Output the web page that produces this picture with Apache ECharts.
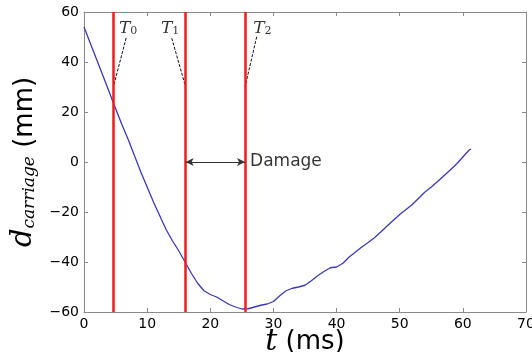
<!DOCTYPE html>
<html>
<head>
<meta charset="utf-8">
<script src="https://cdn.jsdelivr.net/npm/echarts@6/dist/echarts.min.js"></script>
<style>
  html, body { margin: 0; padding: 0; background: #fff; }
  #chart { width: 532px; height: 352px; }
</style>
</head>
<body>
<div id="chart"></div>
<script>
// carriage displacement vs time
const timeMs = [0, 1, 2, 3, 4, 4.65, 6, 7, 8, 9, 10, 11, 12, 13, 14, 15, 16, 17, 18, 19, 20,
  21, 22, 23, 24, 25, 26, 27, 28, 29, 30, 31, 32, 33, 34, 35, 36, 37, 38, 39, 40,
  41, 42, 43, 44, 45, 46, 47, 48, 49, 50, 51, 52, 53, 54, 55, 56, 57, 58, 59, 60, 61, 61.3];
const dispMm = [54, 47.5, 41, 34.5, 28, 23.6, 15, 9, 2.5, -4, -10, -16, -21.5, -27, -31.5, -35.5, -40, -44.5, -48.5, -51.5, -53,
  -54, -55.5, -57, -58, -58.8, -58.7, -58, -57.3, -56.8, -55.8, -53.5, -51.5, -50.5, -50, -49.3, -47.5, -45.5, -43.8, -42.3, -42,
  -40.5, -38, -36, -34, -32.2, -30.3, -28, -25.6, -23.3, -21, -19, -17, -14.5, -12, -10, -7.8, -5.5, -3.2, -0.8, 2, 4.8, 5.2];

// event times T0, T1, T2
const eventNames = ['0', '1', '2'];
const eventTimes = [4.65, 16.1, 25.5];
const leaderY = 30;
const leaderStart = [[6.67, 49.6], [13.9, 49.5], [27.35, 50.1]];
const labelPos = [[6.98, 54], [13.65, 54], [28.25, 54]];

const damageY = 0;
const damageText = 'Damage';
const damageTextPos = [26.3, 0];

const chart = echarts.init(document.getElementById('chart'));

const frame = '#8a8a8a';
const minus = v => String(v).replace('-', '\u2212');

const leaderSeries = eventTimes.map((t, i) => ({
  type: 'line',
  data: [leaderStart[i], [t, leaderY]],
  showSymbol: false,
  silent: true,
  lineStyle: { color: '#111', width: 1, type: [3, 1.5] },
  z: 4
}));

const option = {
  animation: false,
  grid: { left: 84, right: 6, top: 12, bottom: 40, outerBoundsMode: 'none', containLabel: false },
  xAxis: [{
    type: 'value', min: 0, max: 70, interval: 10,
    axisLine: { show: true, onZero: false, lineStyle: { color: frame } },
    axisTick: { show: true, inside: true, length: 4, lineStyle: { color: frame } },
    axisLabel: { color: '#000', fontSize: 14, fontFamily: 'DejaVu Sans', margin: 5 },
    splitLine: { show: false },
    name: '{t|t}{u| (ms)}',
    nameLocation: 'middle',
    nameMoveOverlap: false,
    nameGap: 15,
    nameTextStyle: {
      rich: {
        t: { fontFamily: 'DejaVu Serif', fontStyle: 'italic', fontSize: 30, color: '#000' },
        u: { fontFamily: 'DejaVu Sans', fontSize: 26, color: '#000' }
      }
    }
  }, {
    type: 'value', min: 0, max: 70, interval: 10, position: 'top',
    axisLine: { show: true, onZero: false, lineStyle: { color: frame } },
    axisTick: { show: true, inside: true, length: 4, lineStyle: { color: frame } },
    axisLabel: { show: false },
    splitLine: { show: false }
  }],
  yAxis: [{
    type: 'value', min: -60, max: 60, interval: 20,
    axisLine: { show: true, onZero: false, lineStyle: { color: frame } },
    axisTick: { show: true, inside: true, length: 4, lineStyle: { color: frame } },
    axisLabel: { color: '#000', fontSize: 14, fontFamily: 'DejaVu Sans', margin: 5, formatter: minus },
    splitLine: { show: false },
    name: '{d|d}{s|carriage}{u| (mm)}',
    nameLocation: 'middle',
    nameRotate: 90,
    nameMoveOverlap: false,
    nameGap: 46,
    nameTextStyle: {
      rich: {
        d: { fontFamily: 'DejaVu Serif', fontStyle: 'italic', fontSize: 29, color: '#000', lineHeight: 36, verticalAlign: 'bottom' },
        s: { fontFamily: 'DejaVu Serif', fontStyle: 'italic', fontSize: 17, color: '#000', lineHeight: 23, verticalAlign: 'bottom' },
        u: { fontFamily: 'DejaVu Sans', fontSize: 26, color: '#000', lineHeight: 36, verticalAlign: 'bottom' }
      }
    }
  }, {
    type: 'value', min: -60, max: 60, interval: 20, position: 'right',
    axisLine: { show: true, onZero: false, lineStyle: { color: frame } },
    axisTick: { show: true, inside: true, length: 4, lineStyle: { color: frame } },
    axisLabel: { show: false },
    splitLine: { show: false }
  }],
  series: [
    {
      type: 'line',
      data: timeMs.map((t, i) => [t, dispMm[i]]),
      showSymbol: false,
      lineStyle: { color: '#3a3ab4', width: 1.3 },
      z: 3
    },
    {
      type: 'line',
      data: [],
      silent: true,
      markLine: {
        silent: true,
        symbol: ['none', 'none'],
        label: { show: false },
        lineStyle: { color: '#f21a1a', width: 2.5, type: 'solid' },
        data: eventTimes.map(t => ({ xAxis: t }))
      },
      z: 5
    },
    {
      type: 'line',
      data: [],
      silent: true,
      markLine: {
        silent: true,
        symbol: ['arrow', 'arrow'],
        symbolSize: [6, 8],
        label: { show: false },
        lineStyle: { color: '#333', width: 1, type: 'solid' },
        data: [[{ coord: [eventTimes[1], damageY] }, { coord: [eventTimes[2], damageY] }]]
      },
      z: 4
    },
    ...leaderSeries,
    {
      type: 'scatter',
      symbolSize: 0,
      silent: true,
      data: labelPos.map((p, i) => ({ value: p, name: eventNames[i] })),
      label: {
        show: true,
        position: 'inside',
        formatter: p => '{t|T}{s|' + p.name + '}',
        rich: {
          t: { fontFamily: 'DejaVu Serif', fontStyle: 'italic', fontSize: 17, color: '#000', verticalAlign: 'bottom', lineHeight: 20 },
          s: { fontFamily: 'DejaVu Serif', fontSize: 11, color: '#000', verticalAlign: 'bottom', lineHeight: 14 }
        }
      }
    },
    {
      type: 'scatter',
      symbolSize: 0,
      silent: true,
      data: [damageTextPos],
      label: {
        show: true,
        position: 'right',
        distance: 0,
        formatter: damageText,
        fontFamily: 'DejaVu Sans',
        fontSize: 17,
        color: '#000'
      }
    }
  ]
};

chart.setOption(option);
</script>
</body>
</html>
